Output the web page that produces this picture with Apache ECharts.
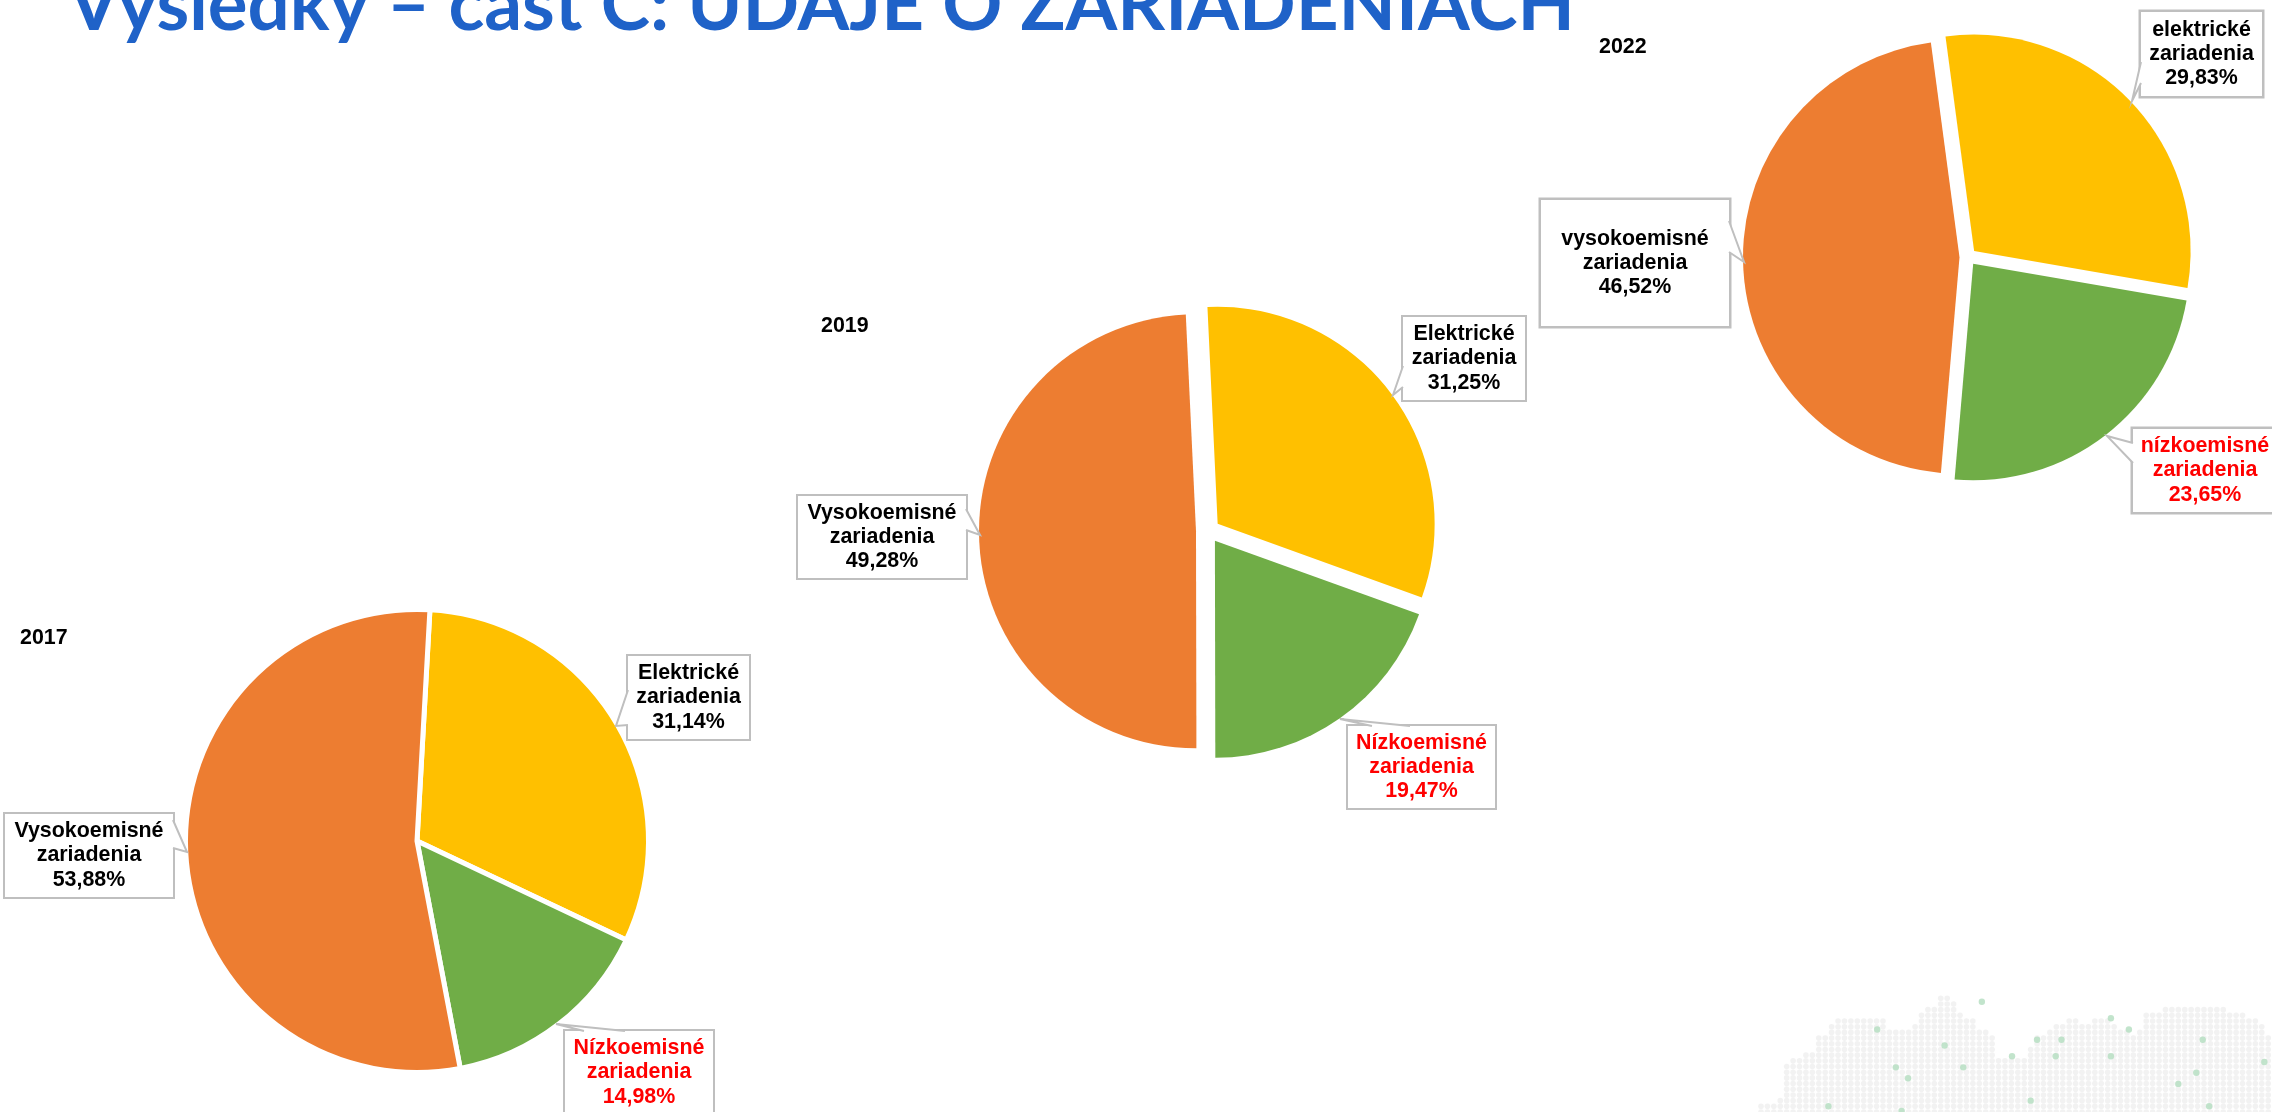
<!DOCTYPE html>
<html>
<head>
<meta charset="utf-8">
<title>Výsledky – časť C</title>
<script src="https://cdn.jsdelivr.net/npm/echarts@6/dist/echarts.min.js"></script>
<style>
	html, body {margin: 0; padding: 0; background: #fff;}
	#chart {width: 2272px; height: 1112px;}
</style>
</head>
<body>
<div id="chart"></div>
<script>
// values
var years = ['2017', '2019', '2022'];
var names2017 = ['Elektrické\nzariadenia', 'Nízkoemisné\nzariadenia', 'Vysokoemisné\nzariadenia'];
var names2019 = ['Elektrické\nzariadenia', 'Nízkoemisné\nzariadenia', 'Vysokoemisné\nzariadenia'];
var names2022 = ['elektrické\nzariadenia', 'nízkoemisné\nzariadenia', 'vysokoemisné\nzariadenia'];
var values2017 = [31.14, 14.98, 53.88];
var values2019 = [31.25, 19.47, 49.28];
var values2022 = [29.83, 23.65, 46.52];
var sliceColors = ['#FFC000', '#70AD47', '#ED7D31'];
var labelColors = ['#000', '#F00', '#000'];

// background map: top row of the grey dots for each column
var mapTopRow = [19,19,19,18,12,11,11,10,10,7,7,5,4,4,4,4,4,4,4,4,6,6,6,6,5,3,2,2,0,0,
	1,3,4,4,6,6,7,11,11,11,11,11,9,7,7,6,5,5,4,4,5,5,4,4,4,5,6,6,7,6,
	3,3,3,2,2,2,2,2,2,2,2,2,2,3,3,3,4,4,5,7];
var mapGreenDots = [[18.1,5.5],[28.6,8.3],[34.4,0.6],[21,12.15],[22.9,14.07],[31.5,12.15],[39.1,10.2],
	[43,7.3],[46.8,7.3],[45.9,10.2],[54.5,3.5],[57.3,5.5],[54.5,10.2],[68.8,7.3],[78.4,11.2],
	[67.8,13.1],[65,15.06],[42,18],[69.8,19],[10.5,19],[21.9,19.8]];

// layout, in page pixels
var pieCenters = [[417, 841], [1208, 531], [1968, 257]];
var pieRadius = [231.5, 217, 216.5];
var pieStart = [3.2, -2.7, -7.6];
var pieExplode = [0, 12, 8.5];
var pieBorder = [5, 0, 0];
var yearPos = [[20, 628], [821, 316], [1599, 37]];
// label boxes: left, top, right, bottom
var labelBoxes = [
	[[628, 656, 749, 739], [565, 1031, 713, 1114], [5, 814, 173, 897]],
	[[1403, 317, 1525, 400], [1348, 726, 1495, 808], [798, 496, 966, 578]],
	[[2141, 12, 2262, 96], [2133, 429, 2277, 512], [1541, 200, 1729, 326]]
];
// callout wedges: start on box, tip on pie, end on box
var wedges = [
	[[628, 690], [616, 726], [628, 725]],
	[[173, 820], [187, 852], [173, 848]],
	[[625, 1031], [556, 1024], [584, 1031]],
	[[1403, 366], [1393, 395], [1403, 387]],
	[[966, 509], [980, 535], [966, 530]],
	[[1410, 726], [1340, 719], [1372, 726]],
	[[2141, 62], [2132, 101], [2141, 83]],
	[[1729, 221], [1744, 262], [1729, 252]],
	[[2133, 443], [2107, 436], [2133, 463]]
];

var allNames = [names2017, names2019, names2022];
var allValues = [values2017, values2019, values2022];

// the slices: exploded through the select state, no labels here
function pieSeries(index){
	var names = allNames[index];
	var values = allValues[index];
	var data = new Array();
	for (var i=0; i<values.length; i++){
		data.push({
			name: names[i],
			value: values[i],
			selected: pieExplode[index] > 0,
			itemStyle: {color: sliceColors[i]}
		});
	}
	return {
		type: 'pie',
		center: pieCenters[index],
		radius: [0, pieRadius[index]],
		startAngle: 90-pieStart[index],
		clockwise: true,
		selectedMode: pieExplode[index] > 0 ? 'multiple' : false,
		selectedOffset: pieExplode[index],
		silent: true,
		animation: false,
		z: 2,
		itemStyle: {borderColor: '#fff', borderWidth: pieBorder[index]},
		select: {itemStyle: {borderColor: '#fff', borderWidth: pieBorder[index]}},
		emphasis: {disabled: true},
		labelLine: {show: false},
		label: {show: false},
		data: data
	};
}

// the callout boxes: same values on a see-through pie, a selected slice moves its label away
function labelSeries(index){
	var names = allNames[index];
	var values = allValues[index];
	var boxes = labelBoxes[index];
	var data = new Array();
	for (var i=0; i<values.length; i++){
		var box = boxes[i];
		var lines = 3*24.3;
		data.push({
			name: names[i],
			value: values[i],
			label: {
				color: labelColors[i],
				width: box[2]-box[0],
				padding: [(box[3]-box[1]-lines)/2, 0]
			}
		});
	}
	return {
		type: 'pie',
		center: pieCenters[index],
		radius: [0, pieRadius[index]],
		startAngle: 90-pieStart[index],
		avoidLabelOverlap: false,
		silent: true,
		animation: false,
		z: 3,
		itemStyle: {color: 'rgba(0,0,0,0)', borderWidth: 0},
		emphasis: {disabled: true},
		labelLine: {show: false},
		label: {
			show: true,
			position: 'outside',
			fontFamily: '"Liberation Sans", Arial, sans-serif',
			fontWeight: 'bold',
			fontSize: 21.4,
			lineHeight: 24.3,
			align: 'center',
			backgroundColor: '#fff',
			borderColor: '#BFBFBF',
			borderWidth: index == 2 ? 2.5 : 2,
			formatter: function(params){
				return params.name+'\n'+params.value.toFixed(2).replace('.', ',')+'%';
			}
		},
		labelLayout: function(params){
			var box = boxes[params.dataIndex];
			return {
				x: (box[0]+box[2])/2,
				y: (box[1]+box[3])/2,
				align: 'center',
				verticalAlign: 'middle'
			};
		},
		data: data
	};
}

var greyDots = new Array();
for (var col=0; col<mapTopRow.length; col++){
	for (var row=mapTopRow[col]; row<=20; row++){
		greyDots.push([col, row]);
	}
}

var series = [
	{type: 'scatter', silent: true, animation: false, symbolSize: 5.6, clip: false, z: 0,
		itemStyle: {color: '#EFEFEF'}, data: greyDots},
	{type: 'scatter', silent: true, animation: false, symbolSize: 6.4, clip: false, z: 1,
		itemStyle: {color: '#B3DDBF'}, data: mapGreenDots}
];
for (var p=0; p<years.length; p++){
	series.push(pieSeries(p));
	series.push(labelSeries(p));
}

var titles = [{
	text: 'Výsledky – časť C: ÚDAJE O ZARIADENIACH',
	left: 63,
	top: -37,
	textStyle: {fontFamily: 'Lato, sans-serif', fontWeight: 'bold', fontSize: 74.5, color: '#1F62C8'}
}];
for (var y=0; y<years.length; y++){
	titles.push({
		text: years[y],
		left: yearPos[y][0],
		top: yearPos[y][1],
		padding: 0,
		textStyle: {fontFamily: '"Liberation Sans", Arial, sans-serif', fontWeight: 'bold', fontSize: 21.4, color: '#000'}
	});
}

var graphics = new Array();
for (var w=0; w<wedges.length; w++){
	graphics.push({type: 'polygon', z: 100, silent: true, shape: {points: wedges[w]}, style: {fill: '#fff'}});
	graphics.push({type: 'polyline', z: 101, silent: true, shape: {points: wedges[w]},
		style: {stroke: '#BFBFBF', lineWidth: 2, fill: null}});
}

var chart = echarts.init(document.getElementById('chart'));
chart.setOption({
	animation: false,
	backgroundColor: '#fff',
	title: titles,
	// grid in dot units, placed over the map corner
	grid: {left: 1761, top: 998.3, width: 507.2, height: 114.6, containLabel: false},
	xAxis: {type: 'value', min: 0, max: 79, show: false},
	yAxis: {type: 'value', min: 0, max: 20, inverse: true, show: false},
	tooltip: {show: false},
	legend: {show: false},
	graphic: graphics,
	series: series
});
</script>
</body>
</html>
